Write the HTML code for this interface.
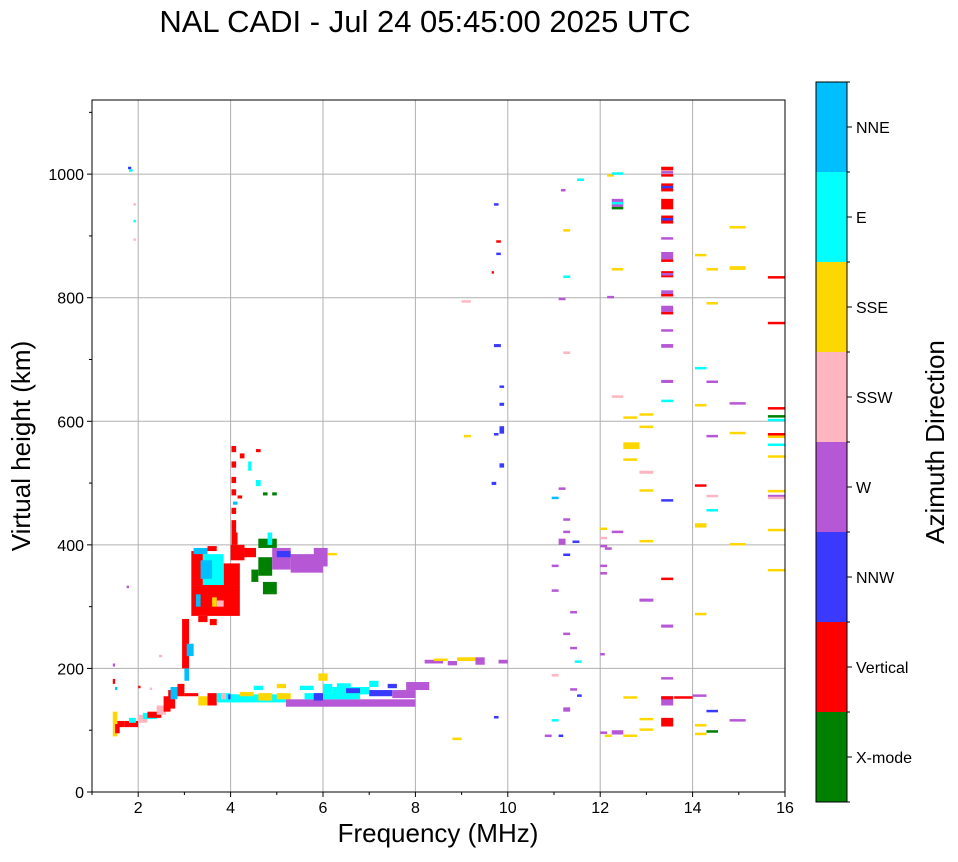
<!DOCTYPE html>
<html><head><meta charset="utf-8"><style>
body{margin:0;background:#fff;font-family:"Liberation Sans",sans-serif;}
svg text{font-family:"Liberation Sans",sans-serif;fill:#000;}
</style></head><body>
<svg id="chart" width="958" height="857" viewBox="0 0 958 857" xmlns="http://www.w3.org/2000/svg">
<text x="425" y="32" font-size="31" text-anchor="middle">NAL CADI - Jul 24 05:45:00 2025 UTC</text>
<g id="grid"></g>
<g id="marks"></g>
<rect x="92" y="100" width="693" height="692" fill="none" stroke="#000" stroke-width="1"/>
<g id="axes"></g>
<text x="438" y="842" font-size="26" text-anchor="middle">Frequency (MHz)</text>
<text transform="translate(30,446) rotate(-90)" font-size="26" text-anchor="middle">Virtual height (km)</text>
<g id="cbar"></g>
<text transform="translate(944,442) rotate(-90)" font-size="26" text-anchor="middle">Azimuth Direction</text>
</svg>
<script>
const directions = ["X-mode","Vertical","NNW","W","SSW","SSE","E","NNE"];
const dirColors = ["#008000","#ff0000","#3a3aff","#b657d6","#ffb6c1","#ffd700","#00ffff","#00bfff"];
const xTicks = [2,4,6,8,10,12,14,16];
const yTicks = [0,200,400,600,800,1000];
// echoes: [freqStart MHz, freqEnd MHz, heightLow km, heightHigh km, directionIndex]
const echoes = [
[1.45,1.55,90,130,5],[1.5,1.6,95,110,1],[1.55,1.7,105,115,1],[1.7,2.0,105,115,1],[1.8,1.95,112,120,6],[2.0,2.2,112,125,4],[2.1,2.4,118,128,6],[2.2,2.5,120,130,1],[2.4,2.6,125,140,4],[2.55,2.7,130,155,1],[2.65,2.8,135,165,1],[2.7,2.85,150,170,7],[2.85,3.0,155,175,1],[1.45,1.5,175,183,1],[1.5,1.55,165,170,7],[2.0,2.05,168,172,1],[2.25,2.3,165,169,4],
[3.0,3.3,155,160,1],[3.3,3.5,140,155,5],[3.5,3.7,140,160,1],[3.7,4.0,145,160,6],[3.8,3.9,150,160,4],[3.95,4.1,150,158,2],
[4.0,5.2,145,158,6],[4.2,4.5,155,162,5],[4.6,4.9,148,160,5],[5.0,5.3,150,160,5],[4.5,4.7,165,172,6],[5.0,5.2,168,175,5],
[5.2,8.0,138,150,3],[5.6,6.8,150,160,6],[6.0,6.2,160,175,6],[6.2,7.0,158,170,6],[6.5,6.8,160,168,2],[7.0,7.5,155,165,2],[7.5,8.0,152,165,3],[7.8,8.3,165,178,3],[5.9,6.1,180,192,5],[5.5,5.8,165,172,6],[6.3,6.6,170,176,6],[7.0,7.2,170,180,6],[7.4,7.6,168,175,2],[5.8,6.0,148,160,2],
[2.95,3.1,200,280,1],[3.0,3.1,180,200,7],[3.05,3.2,220,240,7],
[3.15,4.2,285,335,1],[3.15,3.4,335,390,1],[3.85,4.2,335,370,1],[3.4,3.85,335,385,6],[3.35,3.6,345,375,7],[3.6,3.7,300,315,5],[3.3,3.5,275,285,1],[3.55,3.7,270,280,1],[3.2,3.5,385,395,7],[3.5,3.7,390,398,1],[3.7,3.85,300,310,4],[3.25,3.35,300,320,7],
[4.02,4.12,550,560,1],[4.02,4.12,525,535,1],[4.02,4.12,500,510,1],[4.02,4.12,480,490,1],[4.02,4.12,450,460,1],[4.02,4.12,420,440,1],[4.02,4.15,400,420,1],[4.2,4.3,540,548,1],[4.38,4.45,520,535,6],[4.15,4.25,475,480,1],[4.05,4.15,465,470,7],
[4.0,4.3,375,400,1],[4.3,4.55,380,395,1],[4.45,4.6,340,360,0],[4.6,4.9,350,380,0],[4.7,5.0,320,340,0],[4.6,5.0,395,410,0],[4.8,4.9,400,420,6],[4.9,5.3,360,395,3],[5.3,6.0,355,385,3],[5.8,6.1,365,395,3],[5.0,5.3,380,390,2],[6.1,6.3,383,387,5],[4.55,4.65,550,555,1],[4.7,4.8,480,485,0],[4.9,5.0,480,485,0],[4.55,4.65,495,505,6],
[1.75,1.8,330,334,3],[1.45,1.5,203,208,3],[1.78,1.85,1008,1012,2],[1.8,1.88,1004,1008,6],[1.9,1.95,950,953,4],[1.9,1.95,922,926,6],[1.9,1.95,893,896,4],[2.45,2.52,219,222,4],
[8.2,8.6,208,214,3],[8.4,8.7,212,216,5],[8.7,8.9,205,212,3],[8.9,9.3,212,218,5],[9.3,9.5,206,218,3],[9.8,10.0,208,214,3],[8.8,9.0,85,88,5],[9.7,9.8,120,123,2],[9.05,9.2,575,578,5],[9.0,9.2,793,796,4],[9.65,9.75,497,502,2],[9.7,9.8,950,953,2],[9.75,9.85,890,893,1],[9.75,9.85,870,873,2],[9.65,9.7,840,843,1],[9.7,9.85,720,725,2],[9.82,9.92,655,658,2],[9.82,9.92,625,630,2],[9.82,9.92,580,592,2],[9.7,9.8,578,581,2],[9.82,9.92,525,532,2],
[10.8,10.95,90,93,3],[10.95,11.1,115,118,6],[10.95,11.1,188,191,4],[10.95,11.1,325,328,3],[10.95,11.1,365,368,3],[10.95,11.1,475,478,7],[11.1,11.2,90,93,2],[11.1,11.25,400,410,3],[11.1,11.25,490,493,3],[11.15,11.25,973,976,3],[11.2,11.35,130,137,3],[11.2,11.35,255,258,3],[11.2,11.35,383,386,2],[11.2,11.35,420,423,3],[11.2,11.35,440,443,3],[11.2,11.35,833,836,6],[11.2,11.35,710,713,4],[11.2,11.35,908,911,5],[11.35,11.5,165,168,3],[11.35,11.5,232,235,3],[11.35,11.5,290,293,3],[11.5,11.6,155,158,2],[11.45,11.6,210,213,6],[11.4,11.55,404,407,2],[11.5,11.65,990,993,6],[11.1,11.25,797,800,3],
[12.0,12.15,95,98,3],[12.0,12.1,222,225,3],[12.0,12.15,352,356,3],[12.0,12.15,365,368,3],[12.0,12.15,397,400,3],[12.0,12.15,425,428,5],[12.0,12.15,410,413,4],[12.1,12.25,90,93,5],[12.1,12.25,393,396,3],[12.15,12.3,996,1000,5],[12.25,12.5,999,1003,6],[12.15,12.3,800,803,3],[12.25,12.5,955,960,3],[12.25,12.5,951,955,6],[12.25,12.5,947,951,3],[12.25,12.5,943,947,0],[12.25,12.5,845,848,5],[12.25,12.5,638,642,4],[12.25,12.5,420,423,3],[12.25,12.5,93,100,3],
[12.5,12.8,90,93,5],[12.5,12.8,152,155,5],[12.5,12.85,555,566,5],[12.5,12.8,537,540,5],[12.5,12.8,605,608,5],[12.85,13.15,610,613,5],[12.85,13.15,590,593,5],[12.85,13.15,515,520,4],[12.85,13.15,487,490,5],[12.85,13.15,405,408,5],[12.85,13.15,308,313,3],[12.85,13.15,117,120,5],[12.85,13.15,100,103,5],
[13.32,13.58,1006,1012,1],[13.32,13.58,1002,1005,3],[13.32,13.58,996,1000,1],[13.32,13.58,972,985,1],[13.32,13.58,977,981,2],[13.32,13.58,943,960,1],[13.32,13.58,920,933,1],[13.32,13.58,925,929,2],[13.32,13.58,894,898,3],[13.32,13.58,862,874,3],[13.32,13.58,858,862,1],[13.32,13.58,833,843,1],[13.32,13.58,836,840,3],[13.32,13.58,805,812,3],[13.32,13.58,803,806,1],[13.32,13.58,777,787,3],[13.32,13.58,773,777,1],[13.32,13.58,747,749,3],[13.32,13.58,719,725,3],[13.32,13.58,662,667,3],[13.32,13.58,631,635,6],[13.32,13.58,472,474,2],[13.32,13.58,343,347,1],[13.32,13.58,266,271,3],[13.32,13.58,182,186,3],[13.32,13.58,140,155,3],[13.32,13.58,150,155,1],[13.32,13.58,106,120,1],
[13.6,14.0,152,155,1],[14.0,14.3,155,158,3],[14.05,14.3,92,96,5],[14.05,14.3,107,110,5],[14.3,14.55,98,100,0],[14.05,14.3,287,290,5],[14.05,14.3,428,435,5],[14.05,14.3,495,498,1],[14.05,14.3,625,628,5],[14.05,14.3,685,688,6],[14.05,14.3,868,871,5],[14.3,14.55,130,133,2],[14.3,14.55,478,481,4],[14.3,14.55,455,458,6],[14.3,14.55,575,578,3],[14.3,14.55,663,666,3],[14.3,14.55,790,793,5],[14.3,14.55,845,848,5],
[14.8,15.15,115,118,3],[14.8,15.15,400,403,5],[14.8,15.15,580,583,5],[14.8,15.15,628,631,3],[14.8,15.15,845,851,5],[14.8,15.15,913,916,5],
[15.63,16,831,835,1],[15.63,16,757,761,1],[15.63,16,619,623,1],[15.63,16,606,610,0],[15.63,16,600,604,6],[15.63,16,577,581,1],[15.63,16,573,577,5],[15.63,16,560,564,6],[15.63,16,541,545,5],[15.63,16,485,489,5],[15.63,16,478,481,3],[15.63,16,474,478,4],[15.63,16,422,426,5],[15.63,16,357,361,5]
];
const X0=92,X1=785,Y0=792,Y1=100,FMIN=1,FMAX=16,HMIN=0,HMAX=1120;
const xs=f=>X0+(f-FMIN)/(FMAX-FMIN)*(X1-X0);
const ys=h=>Y0-(h-HMIN)/(HMAX-HMIN)*(Y0-Y1);
const NS="http://www.w3.org/2000/svg";
function mk(tag,attrs,parent){const e=document.createElementNS(NS,tag);for(const k in attrs)e.setAttribute(k,attrs[k]);parent.appendChild(e);return e;}
const grid=document.getElementById('grid'),axes=document.getElementById('axes'),marks=document.getElementById('marks'),cbar=document.getElementById('cbar');
xTicks.forEach(t=>{const x=xs(t);
 if(t<FMAX){const g=mk('line',{x1:x,x2:x,y1:Y1,y2:Y0,stroke:'#b0b0b0','stroke-width':1},grid);}
 const tk=mk('line',{x1:x,x2:x,y1:Y0,y2:Y0+5,stroke:'#000'},axes);
 const tx=mk('text',{x:x,y:Y0+21,'font-size':16,'text-anchor':'middle'},axes);tx.textContent=t;});
for(let f=FMIN;f<FMAX;f+=2){const x=xs(f);const m=mk('line',{x1:x,x2:x,y1:Y0,y2:Y0+3,stroke:'#000'},axes);}
yTicks.forEach(t=>{const y=ys(t);
 if(t>0){const g=mk('line',{x1:X0,x2:X1,y1:y,y2:y,stroke:'#b0b0b0','stroke-width':1},grid);}
 const tk=mk('line',{x1:X0-5,x2:X0,y1:y,y2:y,stroke:'#000'},axes);
 const tx=mk('text',{x:X0-8,y:y+6,'font-size':16,'text-anchor':'end'},axes);tx.textContent=t;});
for(let h=100;h<HMAX;h+=200){const y=ys(h);const m=mk('line',{x1:X0-3,x2:X0,y1:y,y2:y,stroke:'#000'},axes);}
echoes.forEach(e=>{const x=xs(e[0]),w=Math.max(2,xs(e[1])-x),y=ys(e[3]),h=Math.max(2.5,ys(e[2])-y);
 const r=mk('rect',{x:x,y:y,width:w,height:h,fill:dirColors[e[4]]},marks);
 
 });
const CX=816,CW=31,CT=82,CB=802,seg=(CB-CT)/directions.length;
directions.forEach((d,i)=>{const y=CB-(i+1)*seg;
 const r=mk('rect',{x:CX,y:y,width:CW,height:seg,fill:dirColors[i]},cbar);
 
 
 const tk=mk('line',{x1:CX+CW,x2:CX+CW+5,y1:y+seg/2,y2:y+seg/2,stroke:'#000'},cbar);
 
 
 const tx=mk('text',{x:CX+CW+9,y:y+seg/2+6,'font-size':16},cbar);tx.textContent=d;
 
 });
for(let i=0;i<=directions.length;i++){const y=CB-i*seg;const m=mk('line',{x1:CX+CW,x2:CX+CW+3,y1:y,y2:y,stroke:'#000'},cbar);}
const fr=mk('rect',{x:CX,y:CT,width:CW,height:CB-CT,fill:'none',stroke:'#000'},cbar);


</script>
</body></html>
